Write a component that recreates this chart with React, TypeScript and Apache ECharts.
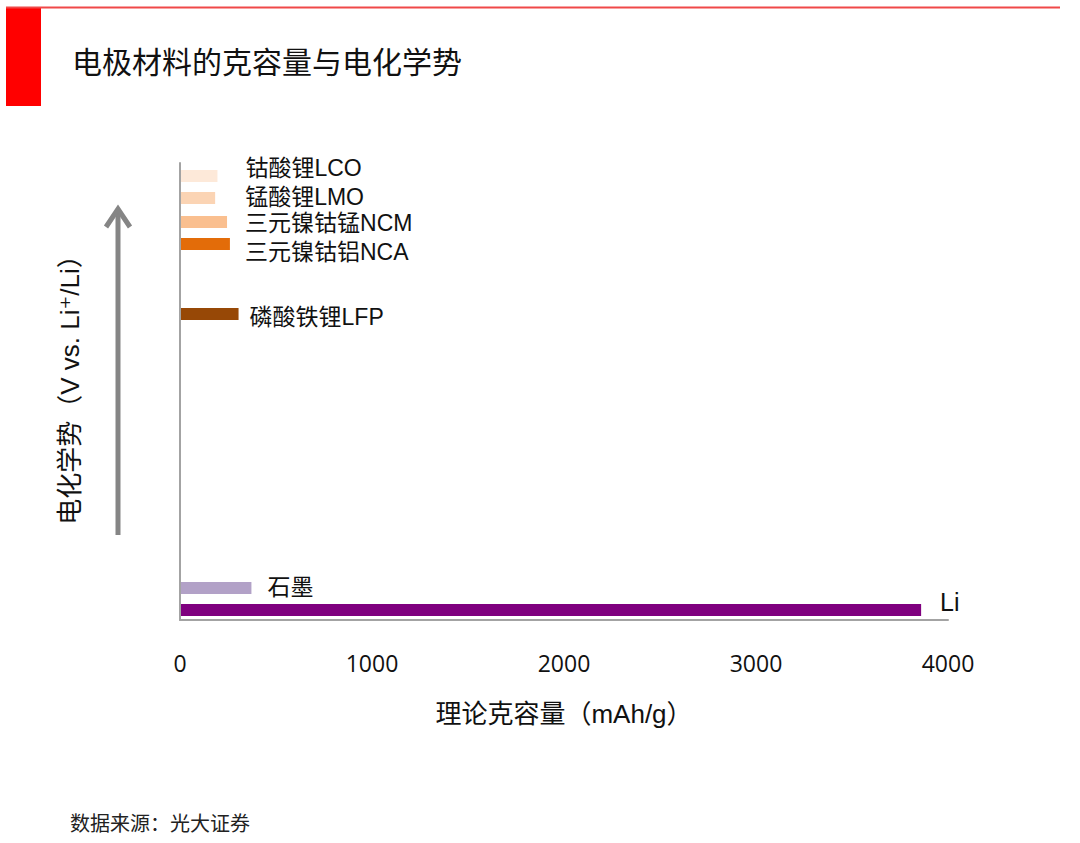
import React, { useEffect, useRef } from "react";
import * as echarts from "echarts";

// Materials, from top to bottom of the chart
const materials = ["钴酸锂LCO", "锰酸锂LMO", "三元镍钴锰NCM", "三元镍钴铝NCA", "磷酸铁锂LFP", "石墨", "Li"];
// Theoretical specific capacity (mAh/g)
const capacity = [195, 183, 245, 260, 305, 372, 3860];
// Relative electrochemical potential (unlabelled axis)
const potential = [4.44, 4.22, 3.98, 3.76, 3.06, 0.32, 0.1];
const xTicks = [0, 1000, 2000, 3000, 4000];

// Styles
const barColors = ["#FDE9D9", "#FBD4B4", "#FABF8F", "#E36C09", "#974806", "#B2A1C7", "#7F007F"];
const labelDx = [28, 30, 18, 15, 11, 16, 19];
const labelDy = [-8, -1.5, 1, 8, 3, -1, -8];

const SANS = '"Liberation Sans", "Noto Sans CJK SC", "DejaVu Sans", sans-serif';
const CJK = '"Noto Sans CJK SC", "Liberation Sans", sans-serif';

export default function App() {
  const ref = useRef<HTMLDivElement>(null);

  useEffect(() => {
    if (!ref.current) return;
    const chart = echarts.init(ref.current, undefined, { renderer: "svg" });
    const data = materials.map((m, i) => [capacity[i], potential[i], i]);

    chart.setOption({
      animation: false,
      backgroundColor: "#ffffff",
      grid: { left: 180, right: 132, top: 163, bottom: 223, containLabel: false },
      xAxis: {
        type: "value",
        min: xTicks[0],
        max: xTicks[xTicks.length - 1],
        interval: 1000,
        axisLine: { show: true, lineStyle: { color: "#a3a3a3", width: 2 } },
        axisTick: { show: false },
        splitLine: { show: false },
        axisLabel: {
          margin: 31,
          fontSize: 23,
          color: "#111111",
          fontFamily: '"Open Sans", "Liberation Sans", sans-serif',
          formatter: (v: number) => String(v),
        },
        name: "理论克容量（mAh/g）",
        nameLocation: "middle",
        nameGap: 81,
        nameTextStyle: { fontSize: 26, color: "#111111", fontFamily: SANS },
      },
      yAxis: {
        type: "value",
        min: 0,
        max: 4.57,
        axisLine: { show: true, lineStyle: { color: "#a3a3a3", width: 2 } },
        axisTick: { show: false },
        splitLine: { show: false },
        axisLabel: { show: false },
        name: "电化学势（V vs. Li⁺/Li）",
        nameLocation: "middle",
        nameRotate: 90,
        nameGap: 97,
        nameTextStyle: { fontSize: 26, color: "#111111", fontFamily: SANS, padding: [0, 0, 0, 16] },
      },
      series: [
        {
          type: "custom",
          clip: false,
          data,
          renderItem: (params: any, api: any) => {
            const cap = api.value(0);
            const pot = api.value(1);
            const idx = api.value(2);
            const start = api.coord([0, pot]);
            const end = api.coord([cap, pot]);
            const h = 12;
            return {
              type: "group",
              children: [
                {
                  type: "rect",
                  shape: { x: start[0] + 1, y: start[1] - h / 2, width: end[0] - start[0] - 1, height: h },
                  style: { fill: barColors[idx] },
                },
                {
                  type: "text",
                  style: {
                    text: materials[idx],
                    x: end[0] + labelDx[idx],
                    y: end[1] + labelDy[idx],
                    fill: "#111111",
                    font: `${idx === 6 ? 25 : 23}px ${SANS}`,
                    align: "left",
                    verticalAlign: "middle",
                  },
                },
              ],
            };
          },
        },
      ],
      graphic: [
        { type: "rect", shape: { x: 6, y: 8, width: 35, height: 98 }, style: { fill: "#ff0000" } },
        { type: "line", shape: { x1: 6, y1: 7.5, x2: 1060, y2: 7.5 }, style: { stroke: "#f04848", lineWidth: 2 } },
        {
          type: "text",
          style: {
            text: "电极材料的克容量与电化学势",
            x: 72,
            y: 60,
            fill: "#111111",
            font: `30px ${CJK}`,
            verticalAlign: "middle",
          },
        },
        { type: "line", shape: { x1: 118, y1: 535, x2: 118, y2: 209 }, style: { stroke: "#858585", lineWidth: 5 } },
        {
          type: "polyline",
          shape: { points: [[106, 227], [118, 209], [130, 227]] },
          style: { stroke: "#858585", lineWidth: 5, fill: null, lineJoin: "miter" },
        },
        {
          type: "text",
          style: {
            text: "数据来源：光大证券",
            x: 70,
            y: 822,
            fill: "#222222",
            font: `20px ${CJK}`,
            verticalAlign: "middle",
          },
        },
      ],
    });

    return () => chart.dispose();
  }, []);

  return <div ref={ref} style={{ position: "absolute", left: 0, top: 0, width: 1080, height: 843 }} />;
}
